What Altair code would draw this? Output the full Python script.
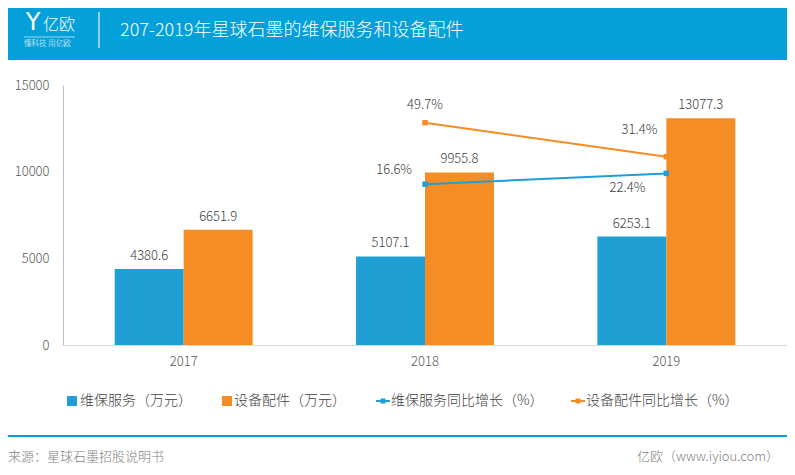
import altair as alt
import pandas as pd

# ---- data ----
years = ["2017", "2018", "2019"]
series_names = ["维保服务（万元）", "设备配件（万元）", "维保服务同比增长（%）", "设备配件同比增长（%）"]
maint_values = [4380.6, 5107.1, 6253.1]
parts_values = [6651.9, 9955.8, 13077.3]
maint_growth = [None, 16.6, 22.4]
parts_growth = [None, 49.7, 31.4]

title_text = "207-2019年星球石墨的维保服务和设备配件"
source_text = "来源：星球石墨招股说明书"
site_text = "亿欧（www.iyiou.com）"

BLUE = "#1F9FD4"
ORANGE = "#F68C24"
HEADER = "#05A0D9"
FONT = "Noto Sans CJK SC"
TXT = "#404040"
LW = 300

bar_rows = []
for i, y in enumerate(years):
    bar_rows.append({"year": y, "series": series_names[0], "value": maint_values[i]})
    bar_rows.append({"year": y, "series": series_names[1], "value": parts_values[i]})
bar_df = pd.DataFrame(bar_rows)

line_rows = []
for i, y in enumerate(years):
    if maint_growth[i] is not None:
        line_rows.append({"year": y, "series": series_names[2], "pct": maint_growth[i]})
    if parts_growth[i] is not None:
        line_rows.append({"year": y, "series": series_names[3], "pct": parts_growth[i]})
line_df = pd.DataFrame(line_rows)

W, H = 724, 260
color_scale = alt.Scale(domain=series_names, range=[BLUE, ORANGE, BLUE, ORANGE])
x_enc = alt.X("year:N", sort=years,
              scale=alt.Scale(paddingInner=0, paddingOuter=0),
              axis=alt.Axis(title=None, labelAngle=0, ticks=False, tickSize=0,
                            domainColor="#D9D9D9", labelColor="#595959",
                            labelFontSize=13, labelPadding=10, labelFont=FONT,
                            labelFontWeight=LW))

# ---- bars ----
bar_base = alt.Chart(bar_df).encode(
    x=x_enc,
    xOffset=alt.XOffset("series:N", sort=series_names[:2],
                        scale=alt.Scale(domain=series_names[:2], paddingInner=0, paddingOuter=0.75)),
    y=alt.Y("value:Q", scale=alt.Scale(domain=[0, 15000], nice=False),
            axis=alt.Axis(title=None, values=[0, 5000, 10000, 15000], format="d",
                          ticks=False, tickSize=0,
                          grid=False, domainColor="#BFBFBF", labelColor="#595959",
                          labelFontSize=13, labelPadding=14, labelFont=FONT,
                          labelFontWeight=LW)),
)
bars = bar_base.mark_bar().encode(color=alt.Color("series:N", scale=color_scale, legend=None))
bar_labels = bar_base.mark_text(baseline="middle", dy=-13, fontSize=13, color=TXT, font=FONT,
                                fontWeight=LW).encode(
    text=alt.Text("value:Q", format=".1f"))
bar_layer = alt.layer(bars, bar_labels)

# ---- growth lines ----
y2 = alt.Y("pct:Q", scale=alt.Scale(domain=[-70, 70], nice=False), axis=None)
line_base = alt.Chart(line_df).encode(x=alt.X("year:N", sort=years), y=y2,
                                      color=alt.Color("series:N", scale=color_scale, legend=None))
lines = line_base.mark_line(strokeWidth=2)
pts = line_base.mark_point(shape="square", filled=True, size=30, opacity=1)

def pct_label(year, series, align, dx, dy):
    return alt.Chart(line_df).transform_filter(
        (alt.datum.year == year) & (alt.datum.series == series)
    ).transform_calculate(
        pct_label="format(datum.pct, '.1f') + '%'"
    ).mark_text(align=align, baseline="middle", dx=dx, dy=dy, fontSize=13, color=TXT,
                font=FONT, fontWeight=LW).encode(
        x=alt.X("year:N", sort=years), y=y2,
        text=alt.Text("pct_label:N"),
    )

line_layer = alt.layer(
    lines, pts,
    pct_label("2018", series_names[3], "center", 0, -18),
    pct_label("2018", series_names[2], "right", -13, -14),
    pct_label("2019", series_names[3], "right", -9, -27),
    pct_label("2019", series_names[2], "right", -21, 15),
)

data_layer = alt.layer(bar_layer, line_layer).resolve_scale(y="independent")

# ---- decorations (pixel positions relative to plot area) ----
one = pd.DataFrame({"a": [0]})

def deco_rect(x, x2, y, y2, color):
    return alt.Chart(one).mark_rect(color=color).encode(
        x=alt.value(x), x2=alt.value(x2), y=alt.value(y), y2=alt.value(y2))

def deco_rule(x, x2, y, y2, color, sw=1, opacity=1.0):
    return alt.Chart(one).mark_rule(color=color, strokeWidth=sw, opacity=opacity).encode(
        x=alt.value(x), x2=alt.value(x2), y=alt.value(y), y2=alt.value(y2))

def deco_text(x, y, text, size, color, align="left", weight=LW, font=FONT):
    return alt.Chart(one).mark_text(text=text, align=align, baseline="middle", fontSize=size,
                                    color=color, fontWeight=weight, font=font).encode(
        x=alt.value(x), y=alt.value(y))

header = [
    deco_rect(-55, 724, -77, -25, HEADER),
    deco_text(-30, -62, "Y", 24, "white", align="center", font="DejaVu Sans", weight="normal"),
    deco_text(-20, -60, "亿欧", 16, "white"),
    deco_rule(-39, 12, -48, -48, "white", 1, 0.6),
    deco_text(-39, -41, "懂科技 用亿欧", 7.5, "white"),
    deco_rule(36, 36, -73, -37, "#8FD3F0", 2),
    deco_text(57, -54, title_text, 18, "white"),
]

# legend
LY = 316
legend = [
    alt.Chart(one).mark_square(size=100, color=BLUE, opacity=1).encode(x=alt.value(9), y=alt.value(LY)),
    deco_text(17, LY, series_names[0], 14, TXT),
    alt.Chart(one).mark_square(size=100, color=ORANGE, opacity=1).encode(x=alt.value(164), y=alt.value(LY)),
    deco_text(171, LY, series_names[1], 14, TXT),
    deco_rule(313, 327, LY, LY, BLUE, 2),
    alt.Chart(one).mark_square(size=25, color=BLUE, opacity=1).encode(x=alt.value(320), y=alt.value(LY)),
    deco_text(328, LY, series_names[2], 14, TXT),
    deco_rule(508, 522, LY, LY, ORANGE, 2),
    alt.Chart(one).mark_square(size=25, color=ORANGE, opacity=1).encode(x=alt.value(515), y=alt.value(LY)),
    deco_text(523, LY, series_names[3], 14, TXT),
]

footer = [
    deco_rule(-55, 724, 351, 351, HEADER, 2),
    deco_text(-55, 372, source_text, 13, "#7F7F7F"),
    deco_text(716, 372, site_text, 13, "#7F7F7F", align="right"),
]

chart = alt.layer(*header, data_layer, *legend, *footer).properties(
    width=W, height=H,
    autosize=alt.AutoSizeParams(type="none"),
    padding={"left": 55, "top": 77, "right": 0, "bottom": 121},
    background="white",
).configure_view(stroke=None)

chart.save("out.html", embed_options={"renderer": "svg", "actions": False})
